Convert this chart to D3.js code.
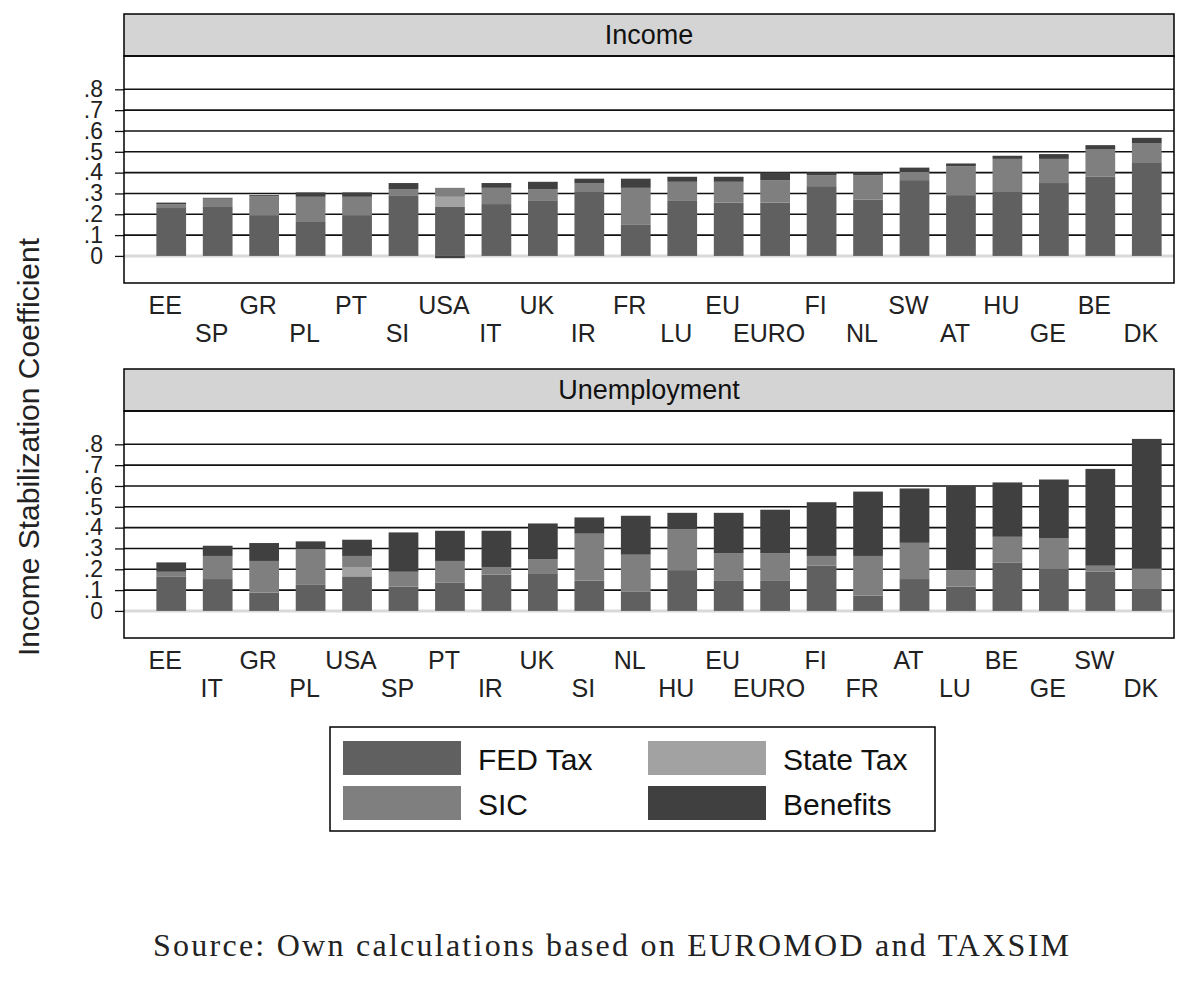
<!DOCTYPE html>
<html>
<head>
<meta charset="utf-8">
<script src="https://cdn.jsdelivr.net/npm/d3@7"></script>
<style>
  body { margin: 0; background: #fff; }
  text { font-family: "Liberation Sans", Arial, sans-serif; }
</style>
</head>
<body>
<script>
// data: stacked components of the income stabilization coefficient
let seriesKeys = ["FED Tax", "State Tax", "SIC", "Benefits"];
let seriesColors = ["#606060", "#a2a2a2", "#7f7f7f", "#404040"];

let incomeCountries = ["EE", "SP", "GR", "PL", "PT", "SI", "USA", "IT", "UK", "IR", "FR",
                       "LU", "EU", "EURO", "FI", "NL", "SW", "AT", "HU", "GE", "BE", "DK"];
let incomeFed   = [0.230, 0.235, 0.196, 0.163, 0.196, 0.288, 0.235, 0.249, 0.264, 0.307, 0.149,
                   0.264, 0.256, 0.256, 0.335, 0.270, 0.364, 0.292, 0.307, 0.350, 0.380, 0.450];
let incomeState = [0, 0, 0, 0, 0, 0, 0.049, 0, 0, 0, 0,
                   0, 0, 0, 0, 0, 0, 0, 0, 0, 0, 0];
let incomeSic   = [0.018, 0.040, 0.091, 0.121, 0.088, 0.033, 0.043, 0.078, 0.057, 0.041, 0.178,
                   0.092, 0.100, 0.108, 0.053, 0.118, 0.039, 0.139, 0.159, 0.116, 0.131, 0.090];
let incomeBen   = [0.008, 0.004, 0.005, 0.021, 0.021, 0.029, -0.011, 0.023, 0.035, 0.023, 0.044,
                   0.024, 0.024, 0.037, 0.013, 0.013, 0.021, 0.013, 0.015, 0.023, 0.021, 0.027];

let unempCountries = ["EE", "IT", "GR", "PL", "USA", "SP", "PT", "IR", "UK", "SI", "NL",
                      "HU", "EU", "EURO", "FI", "FR", "AT", "LU", "BE", "GE", "SW", "DK"];
let unempFed   = [0.166, 0.153, 0.088, 0.125, 0.166, 0.117, 0.137, 0.174, 0.181, 0.145, 0.094,
                  0.196, 0.144, 0.144, 0.217, 0.073, 0.153, 0.117, 0.233, 0.203, 0.188, 0.109];
let unempState = [0, 0, 0, 0, 0.045, 0, 0, 0, 0, 0, 0,
                  0, 0, 0, 0, 0, 0, 0, 0, 0, 0, 0];
let unempSic   = [0.022, 0.111, 0.152, 0.174, 0.053, 0.071, 0.103, 0.037, 0.068, 0.226, 0.176,
                  0.197, 0.132, 0.132, 0.047, 0.191, 0.174, 0.079, 0.123, 0.145, 0.029, 0.094];
let unempBen   = [0.045, 0.049, 0.086, 0.035, 0.078, 0.189, 0.145, 0.174, 0.171, 0.078, 0.187,
                  0.078, 0.195, 0.210, 0.258, 0.309, 0.261, 0.403, 0.261, 0.283, 0.465, 0.623];

let yTicks = [0, 0.1, 0.2, 0.3, 0.4, 0.5, 0.6, 0.7, 0.8];
let yTickLabels = ["0", ".1", ".2", ".3", ".4", ".5", ".6", ".7", ".8"];

let width = 1200, height = 984;
let svg = d3.select("body").append("svg").attr("width", width).attr("height", height);

let frameLeft = 124, frameRight = 1174;
let headerH = 42, plotH = 227;

function rows(countries, fed, state, sic, ben) {
    return countries.map((c, i) => ({
        country: c, "FED Tax": fed[i], "State Tax": state[i], "SIC": sic[i], "Benefits": ben[i]
    }));
}

function drawPanel(top, title, table) {
    let g = svg.append("g");
    let plotTop = top + headerH, plotBottom = plotTop + plotH;

    let x = d3.scaleBand().domain(table.map(d => d.country))
        .range([148, 1170]).paddingInner(0.36).paddingOuter(0.18);
    let y = d3.scaleLinear().domain([-0.13, 0.96]).range([plotBottom, plotTop]);

    // header strip
    g.append("rect").attr("x", frameLeft).attr("y", top)
        .attr("width", frameRight - frameLeft).attr("height", headerH)
        .attr("fill", "#d4d4d4").attr("stroke", "#000").attr("stroke-width", 1.5);
    g.append("text").attr("x", (frameLeft + frameRight) / 2).attr("y", top + headerH / 2)
        .attr("text-anchor", "middle").attr("dominant-baseline", "central")
        .attr("font-size", 27).attr("fill", "#111").text(title);

    // gridlines
    g.selectAll(".grid").data(yTicks.filter(t => t > 0)).enter().append("line")
        .attr("x1", frameLeft).attr("x2", frameRight)
        .attr("y1", d => y(d)).attr("y2", d => y(d))
        .attr("stroke", "#111").attr("stroke-width", 1.6);
    g.append("line").attr("x1", frameLeft).attr("x2", frameRight)
        .attr("y1", y(0)).attr("y2", y(0))
        .attr("stroke", "#d9d9d9").attr("stroke-width", 3);

    // y axis
    let yAxis = d3.axisLeft(y).tickValues(yTicks).tickSize(9).tickPadding(12)
        .tickFormat((d, i) => yTickLabels[i]);
    let ag = g.append("g").attr("transform", "translate(" + frameLeft + ",0)").call(yAxis);
    ag.select(".domain").remove();
    ag.selectAll("line").attr("stroke", "#111").attr("stroke-width", 1.3);
    ag.selectAll("text").attr("font-size", 23).attr("fill", "#222")
        .style("font-family", "'Liberation Sans', Arial, sans-serif");

    // stacked bars
    let stacked = d3.stack().keys(seriesKeys).offset(d3.stackOffsetDiverging)(table);
    g.selectAll(".layer").data(stacked).enter().append("g")
        .attr("fill", (d, i) => seriesColors[i])
        .selectAll("rect").data(d => d).enter().append("rect")
        .attr("x", d => x(d.data.country))
        .attr("width", x.bandwidth())
        .attr("y", d => y(Math.max(d[0], d[1])))
        .attr("height", d => Math.abs(y(d[0]) - y(d[1])));

    // plot frame
    g.append("rect").attr("x", frameLeft).attr("y", plotTop)
        .attr("width", frameRight - frameLeft).attr("height", plotH)
        .attr("fill", "none").attr("stroke", "#000").attr("stroke-width", 1.5);

    // staggered category labels
    g.selectAll(".lab").data(table).enter().append("text")
        .attr("x", d => x(d.country) + x.bandwidth() / 2 - 6)
        .attr("y", (d, i) => plotBottom + (i % 2 === 0 ? 22 : 50))
        .attr("text-anchor", "middle").attr("dominant-baseline", "central")
        .attr("font-size", 25).attr("fill", "#222")
        .text(d => d.country);
}

drawPanel(14, "Income", rows(incomeCountries, incomeFed, incomeState, incomeSic, incomeBen));
drawPanel(369, "Unemployment", rows(unempCountries, unempFed, unempState, unempSic, unempBen));

// y axis title
svg.append("text").attr("transform", "translate(28,447) rotate(-90)")
    .attr("text-anchor", "middle").attr("dominant-baseline", "central")
    .attr("font-size", 30).attr("fill", "#222").text("Income Stabilization Coefficient");

// legend: FED Tax, State Tax on the first row; SIC, Benefits on the second
let legend = svg.append("g");
legend.append("rect").attr("x", 330).attr("y", 727).attr("width", 605).attr("height", 104)
    .attr("fill", "#fff").attr("stroke", "#000").attr("stroke-width", 1.5);
let legendItems = legend.selectAll(".item").data(seriesKeys).enter().append("g")
    .attr("transform", (d, i) => "translate(" + (i % 2 === 0 ? 343 : 648) + "," + (i < 2 ? 741 : 786) + ")");
legendItems.append("rect").attr("width", 118).attr("height", 34)
    .attr("fill", (d, i) => seriesColors[i]);
legendItems.append("text").attr("x", 135).attr("y", 18).attr("dominant-baseline", "central")
    .attr("font-size", 30).attr("fill", "#111")
    .text(d => d);

// source note (serif, as in the original caption)
svg.append("text").attr("x", 611).attr("y", 945).attr("text-anchor", "middle")
    .attr("dominant-baseline", "central")
    .style("font-family", "'Liberation Serif', 'DejaVu Serif', serif")
    .attr("font-size", 32).attr("fill", "#222")
    .attr("textLength", 916).attr("lengthAdjust", "spacing")
    .text("Source: Own calculations based on EUROMOD and TAXSIM");
</script>
</body>
</html>
